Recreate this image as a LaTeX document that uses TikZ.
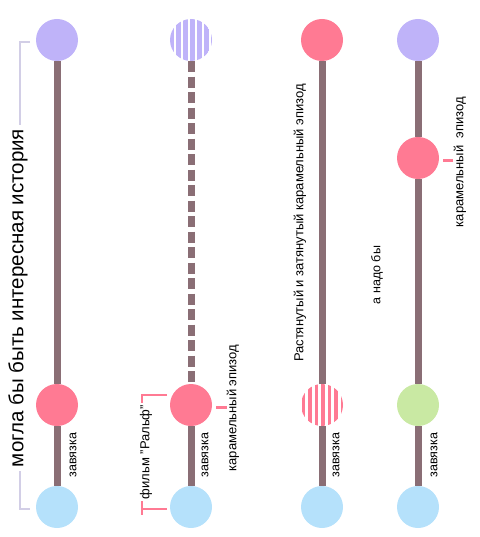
\documentclass[tikz,border=0pt]{standalone}
\usepackage{fontspec}
\setmainfont{Liberation Sans}
\usetikzlibrary{positioning}
\definecolor{lilac}{HTML}{BFB3F9}
\definecolor{candy}{HTML}{FF7A93}
\definecolor{sky}{HTML}{B5E1FB}
\definecolor{mint}{HTML}{C9E9A3}
\definecolor{mauve}{HTML}{8A6E75}
\definecolor{haze}{HTML}{D2CEE6}

\begin{document}
\begin{tikzpicture}[x=1pt, y=-1pt,
  dot/.style={circle, minimum size=42pt, inner sep=0pt},
  stem/.style={line width=7pt, mauve},
  gapline/.style={stem, dash pattern=on 11pt off 4.5pt},
  lbl/.style={font=\fontsize{13}{15}\selectfont, rotate=90, inner sep=1pt},
  tiny/.style={font=\fontsize{12.5}{14}\selectfont, rotate=90, inner sep=1pt},
  tick/.style={line width=1.3pt}]
  \useasboundingbox (0,0) rectangle (479,537);
  % Column 1
  \node[dot, fill=lilac] (a1) at (57,40) {};
  \node[dot, fill=candy] (b1) at (57,405) {};
  \node[dot, fill=sky] (c1) at (57,507) {};
  \draw[stem] (a1) -- (b1);
  \draw[stem] (b1) -- (c1);
  \draw[tick, haze] (30,42) -| (20,509) -- (30,509);
  \node[lbl, font=\fontsize{20.5}{23}\selectfont, fill=white, inner sep=4pt] (story) at (18,298) {могла бы быть интересная история};
  \node[tiny] (knot1) at (73,455) {завязка};
  % Column 2
  \node[dot] (a2) at (191,40) {};
  \node[dot, fill=candy] (b2) at (191,405) {};
  \node[dot, fill=sky] (c2) at (191,507) {};
  \begin{scope}
    \clip (a2.center) circle (21);
    \foreach \i in {0,...,6} \fill[lilac] (169+\i*7,15) rectangle +(4.5,50);
  \end{scope}
  \draw[gapline] (a2) -- (b2);
  \draw[stem] (b2) -- (c2);
  \draw[tick, candy] (167,395) -| (142,515);
  \draw[tick, candy] (142,509) -- (167,509);
  \node[lbl, fill=white, inner sep=2pt] (ralph) at (146,452) {фильм "Ральф"};
  \node[tiny] (knot2) at (205,455) {завязка};
  \coordinate (m2) at (227,407);
  \draw[line width=3pt, candy] (b2.east) ++(4,2) -- (m2);
  \node[lbl] (candy2) at (233,408) {карамельный эпизод};
  % Column 3
  \node[dot, fill=candy] (a3) at (322,40) {};
  \node[dot] (b3) at (322,405) {};
  \node[dot, fill=sky] (c3) at (322,507) {};
  \begin{scope}
    \clip (b3.center) circle (21);
    \foreach \i in {0,...,6} \fill[candy] (301.5+\i*6.5,380) rectangle +(3.5,50);
  \end{scope}
  \draw[stem] (a3) -- (b3);
  \draw[stem] (b3) -- (c3);
  \node[lbl] (long3) at (300,223) {Растянутый и затянутый карамельный эпизод};
  \node[tiny] (knot3) at (336,455) {завязка};
  % Column 4
  \node[dot, fill=lilac] (a4) at (418,40) {};
  \node[dot, fill=candy] (b4) at (418,158) {};
  \node[dot, fill=mint] (c4) at (418,405) {};
  \node[dot, fill=sky] (d4) at (418,507) {};
  \draw[stem] (a4) -- (b4);
  \draw[stem] (b4) -- (c4);
  \draw[stem] (c4) -- (d4);
  \coordinate (m4) at (453,161);
  \draw[line width=3pt, candy] (b4.east) ++(4,3) -- (m4);
  \node[lbl] (candy4) at (460,162) {карамельный\ \ эпизод};
  \node[lbl, font=\fontsize{12.5}{14}\selectfont] (should) at (377,275) {а надо бы};
  \node[tiny] (knot4) at (434,455) {завязка};
\end{tikzpicture}
\end{document}
